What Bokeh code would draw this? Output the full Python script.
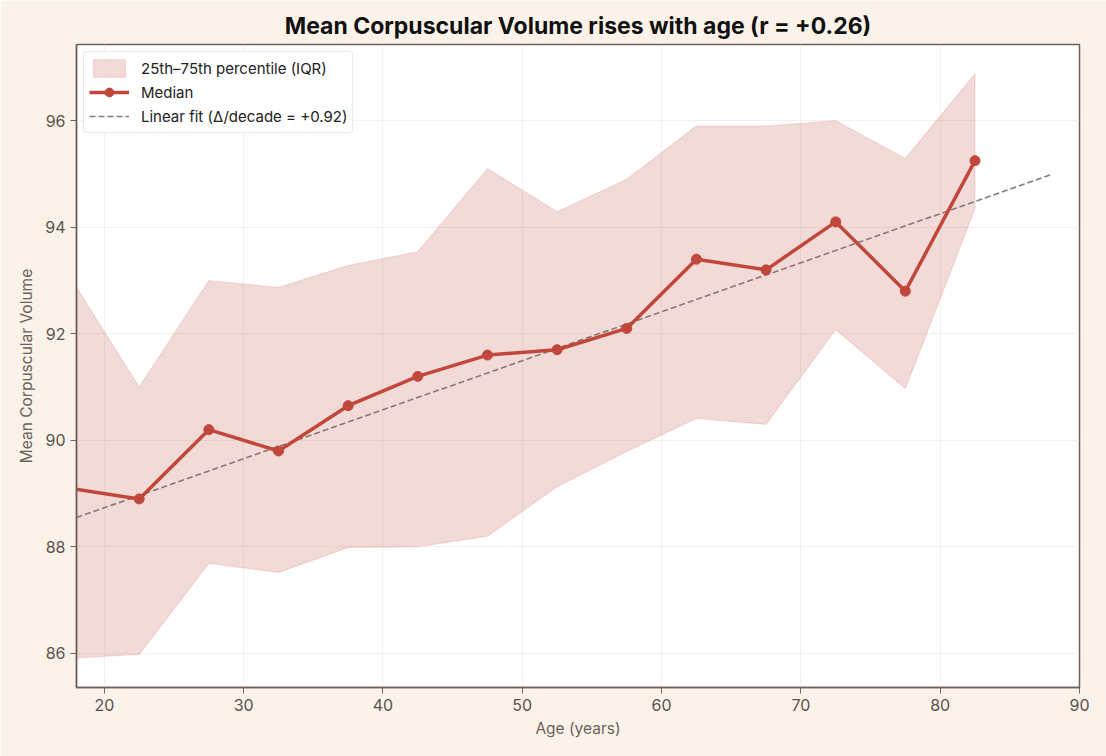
from bokeh.plotting import figure
from bokeh.models import Range1d, FixedTicker, Legend, LegendItem
from bokeh.embed import file_html
from bokeh.resources import INLINE

# ---- data ----
age_mid = [17.5, 22.5, 27.5, 32.5, 37.5, 42.5, 47.5, 52.5, 57.5, 62.5, 67.5, 72.5, 77.5, 82.5]
median = [89.1, 88.9, 90.2, 89.8, 90.65, 91.2, 91.6, 91.7, 92.1, 93.4, 93.2, 94.1, 92.8, 95.25]
q25 = [85.91, 85.98, 87.69, 87.52, 87.99, 88.0, 88.2, 89.13, 89.79, 90.41, 90.30, 92.08, 90.97, 94.35]
q75 = [93.08, 91.0, 93.0, 92.87, 93.28, 93.54, 95.1, 94.29, 94.9, 95.9, 95.9, 96.0, 95.29, 96.88]
fit_x = [18, 88]
fit_slope = 0.092   # per year (+0.92 per decade)
fit_intercept = 86.894
x_ticks = [20, 30, 40, 50, 60, 70, 80, 90]
y_ticks = [86, 88, 90, 92, 94, 96]

RED = "#c0473a"
INK = "#6b625c"
BG = "#fbf3e9"
FONT = "Inter"

p = figure(width=1106, height=756, output_backend="svg", toolbar_location=None,
           x_range=Range1d(18, 90), y_range=Range1d(85.36, 97.43),
           min_border_left=76, min_border_right=27, min_border_top=44, min_border_bottom=69)
p.background_fill_color = "white"
p.border_fill_color = BG
p.outline_line_color = INK
p.outline_line_width = 1.5

p.title.text = "Mean Corpuscular Volume rises with age (r = +0.26)"
p.title.text_font = FONT
p.title.text_font_size = "23px"
p.title.text_font_style = "bold"
p.title.text_color = "#111111"
p.title.align = "center"

# band
band_x = age_mid + age_mid[::-1]
band_y = q75 + q25[::-1]
band = p.patch(band_x, band_y, fill_color=RED, fill_alpha=0.2, line_color=RED, line_alpha=0.15, line_width=1.2)

# fit
fit_y = [fit_intercept + fit_slope * x for x in fit_x]
fit = p.line(fit_x, fit_y, line_color="#857a76", line_width=1.6, line_dash="6 3")

# median
med_line = p.line(age_mid, median, line_color=RED, line_width=3.5)
med_pts = p.scatter(age_mid, median, size=10, fill_color=RED, line_color=RED)

for ax in (p.xaxis[0], p.yaxis[0]):
    ax.axis_line_color = INK
    ax.axis_line_width = 1.5
    ax.major_tick_line_color = INK
    ax.major_tick_out = 6
    ax.major_tick_in = 0
    ax.minor_tick_line_color = None
    ax.major_label_text_font = FONT
    ax.major_label_text_font_size = "16px"
    ax.major_label_text_color = "#5a514c"
    ax.axis_label_text_font = FONT
    ax.axis_label_text_font_size = "15.5px"
    ax.axis_label_text_font_style = "normal"
    ax.axis_label_text_color = "#6b625c"

p.xaxis[0].ticker = FixedTicker(ticks=x_ticks)
p.yaxis[0].ticker = FixedTicker(ticks=y_ticks)
p.xaxis.axis_label = "Age (years)"
p.yaxis.axis_label = "Mean Corpuscular Volume"
p.xaxis.axis_label_standoff = 5
p.yaxis.axis_label_standoff = 6

p.xgrid.ticker = FixedTicker(ticks=x_ticks)
p.ygrid.ticker = FixedTicker(ticks=y_ticks)
p.grid.grid_line_color = "#efe9dd"
p.grid.grid_line_alpha = 0.6
p.grid.grid_line_width = 1

legend = Legend(items=[
    LegendItem(label="25th\u201375th percentile (IQR)", renderers=[band]),
    LegendItem(label="Median", renderers=[med_line, med_pts]),
    LegendItem(label="Linear fit (\u0394/decade = +0.92)", renderers=[fit]),
], location="top_left")
legend.margin = 7
legend.padding = 5
legend.spacing = 2
legend.label_text_font = FONT
legend.label_text_font_size = "15px"
legend.label_text_color = "#222222"
legend.glyph_width = 40
legend.glyph_height = 22
legend.label_height = 22
legend.label_standoff = 12
legend.border_line_color = "#d6d2cc"
legend.border_line_width = 1
legend.border_radius = 4
legend.background_fill_color = "white"
legend.background_fill_alpha = 0.9
p.add_layout(legend)

open("out.html", "w").write(file_html(p, INLINE))
